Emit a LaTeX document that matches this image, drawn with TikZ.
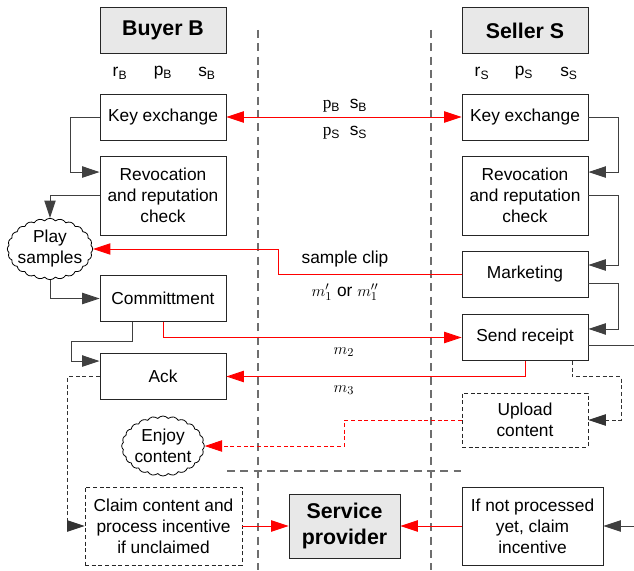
\documentclass[tikz,border=0pt]{standalone}
\usepackage{fontspec}
\setmainfont{Liberation Sans}
\newfontfamily\seriffont{Liberation Serif}
\usetikzlibrary{arrows.meta, shapes.symbols}
\definecolor{boxgray}{RGB}{232,232,232}
\definecolor{linegray}{RGB}{64,64,64}
\definecolor{divgray}{RGB}{110,110,110}

\tikzset{
  stagebox/.style={draw=black!85, line width=0.65pt, minimum width=94.5pt, minimum height=34.5pt,
    align=center, inner sep=1pt, font=\fontsize{13}{15.75}\selectfont},
  titlebox/.style={stagebox, fill=boxgray, font=\fontsize{16}{19}\selectfont\bfseries},
  tallbox/.style={stagebox, minimum height=59.25pt},
  dashbox/.style={stagebox, dash pattern=on 3pt off 2pt},
  thought/.style={cloud, cloud puffs=24, cloud puff arc=100, aspect=1.4, draw=black, line width=0.6pt,
    minimum width=64pt, minimum height=46pt,
    align=center, inner sep=-5pt, font=\fontsize{13}{15.75}\selectfont},
  keytxt/.style={font=\fontsize{13}{15}\selectfont},
  flow/.style={->, draw=linegray, line width=0.7pt},
  msg/.style={->, draw=red, line width=0.65pt},
  dashflow/.style={flow, draw=black!80, dash pattern=on 3pt off 2pt},
  divider/.style={draw=divgray, line width=0.9pt, dash pattern=on 6pt off 4pt}
}

\begin{document}
\begin{tikzpicture}[x=0.75pt, y=-0.75pt, >={Triangle[length=13pt,width=8.5pt]}]
\useasboundingbox (0,0) rectangle (634,570);

% Lanes
\draw[divider] (258,30) -- (258,570);
\draw[divider] (431,30) -- (431,570);
\draw[divider] (227,471) -- (461,471);

% Parties
\node[titlebox] (buyer) at (163,30.5) {Buyer B};
\node[titlebox] (seller) at (525,30.5) {Seller S};

\node[keytxt] (rB) at (120,73) {r\textsubscript{B}};
\node[keytxt] (pB) at (163,73) {p\textsubscript{B}};
\node[keytxt] (sB) at (207,73) {s\textsubscript{B}};
\node[keytxt] (rS) at (482,73) {r\textsubscript{S}};
\node[keytxt] (pS) at (524,73) {p\textsubscript{S}};
\node[keytxt] (sS) at (569,73) {s\textsubscript{S}};

% Buyer side
\node[stagebox] (keyB) at (163,117) {Key exchange};
\node[tallbox] (revB) at (163,195.5) {Revocation\\and reputation\\check};
\node[thought] (play) at (50,249) {Play\\samples};
\node[stagebox] (comm) at (163,298.5) {Committment};
\node[stagebox] (ack) at (163,376.5) {Ack};
\node[thought, minimum width=62pt, minimum height=45pt] (enjoy) at (163,446) {Enjoy\\content};
\node[dashbox, minimum width=117.75pt, minimum height=58.5pt] (claim) at (163.5,526)
  {Claim content and\\process incentive\\if unclaimed};

% Seller side
\node[stagebox] (keyS) at (525,117) {Key exchange};
\node[tallbox] (revS) at (525,195.5) {Revocation\\and reputation\\check};
\node[stagebox] (market) at (525,274) {Marketing};
\node[stagebox] (sendr) at (525,337.5) {Send receipt};
\node[dashbox, minimum height=40.5pt] (upload) at (525,420) {Upload\\content};
\node[stagebox, minimum width=105.75pt, minimum height=58.5pt] (ifnot) at (532.5,526)
  {If not processed\\yet, claim\\incentive};

% Third party
\node[titlebox, minimum width=83.25pt, minimum height=48pt, font=\fontsize{16}{20}\selectfont\bfseries]
  (service) at (344.5,526) {Service\\provider};

% Local steps
\draw[flow] (keyB.west) -- ++(-29,0) |- ([yshift=17.6pt]revB.west);
\draw[flow] (revB.west) -| (play.north);
\draw[flow] (play.south) |- (comm.west);
\draw[flow] ([xshift=-23.25pt]comm.south) -- ++(0,20) -- ++(-61,0) |- ([yshift=11.6pt]ack.west);
\draw[dashflow] (ack.west) -- ++(-32,0) |- (claim.west);

\draw[flow] (keyS.east) -- ++(30,0) |- ([yshift=17.6pt]revS.east);
\draw[flow] (revS.east) -- ++(30,0) |- ([yshift=6.75pt]market.east);
\draw[flow] ([yshift=-6.75pt]market.east) -- ++(30,0) |- ([yshift=6.4pt]sendr.east);
\draw[dashflow] ([xshift=35.25pt]sendr.south) -- ++(0,16) -- ++(49,0) |- (upload.east);
\draw[flow] ([yshift=-5.6pt]sendr.east) -- ++(62,0) |- (ifnot.east);

% Messages between the parties
\draw[msg, <->] (keyB.east) -- (keyS.west);
\node[keytxt] (keyup) at (345,106) {{\seriffont p}\textsubscript{B}\ \ s\textsubscript{B}};
\node[keytxt] (keydown) at (345,133) {{\seriffont p}\textsubscript{S}\ \ s\textsubscript{S}};

\draw[msg] (market.west) -- ++(-183,0) |- (play.east);
\node[keytxt] (clip) at (345,259) {sample clip};
\node[keytxt] (m1) at (345,292) {$m'_1$ or $m''_1$};

\draw[msg] (comm.south) |- (sendr.west);
\node[keytxt] (m2) at (344,352) {$m_2$};
\draw[msg] (sendr.south) |- (ack.east);
\node[keytxt] (m3) at (344,390) {$m_3$};

\draw[msg, dash pattern=on 3pt off 2pt] (upload.west) -- ++(-117,0) |- (enjoy.east);

\draw[msg] (claim.east) -- (service.west);
\draw[msg] (ifnot.west) -- (service.east);
\end{tikzpicture}
\end{document}
